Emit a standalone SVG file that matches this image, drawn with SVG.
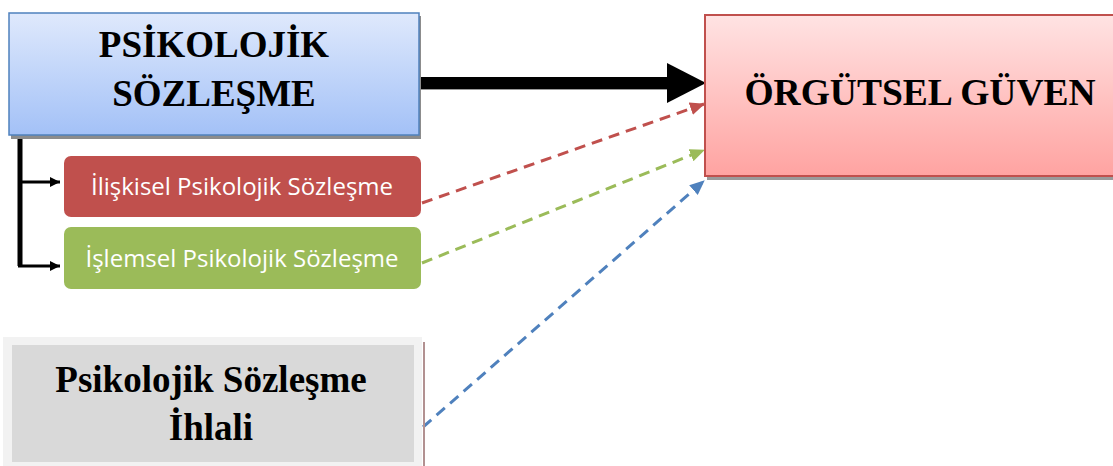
<svg xmlns="http://www.w3.org/2000/svg" width="1113" height="466" viewBox="0 0 1113 466">
<defs>
<linearGradient id="gBlue" x1="0" y1="0" x2="0" y2="1"><stop offset="0" stop-color="#dfe9fc"/><stop offset="1" stop-color="#a3c1f7"/></linearGradient>
<linearGradient id="gRed" x1="0" y1="0" x2="0" y2="1"><stop offset="0" stop-color="#ffe3e3"/><stop offset="1" stop-color="#ffa3a1"/></linearGradient>
<marker id="aBlk" markerUnits="userSpaceOnUse" markerWidth="12" markerHeight="12" refX="10" refY="5" orient="auto"><path d="M0,0 L10,5 L0,10 Z" fill="#000"/></marker>
<marker id="aRed" markerUnits="userSpaceOnUse" markerWidth="16" markerHeight="14" refX="14" refY="6.5" orient="auto"><path d="M0,0 L15,6.5 L0,13 Z" fill="#c0504d"/></marker>
<marker id="aGrn" markerUnits="userSpaceOnUse" markerWidth="16" markerHeight="14" refX="14" refY="6.5" orient="auto"><path d="M0,0 L15,6.5 L0,13 Z" fill="#9bbb59"/></marker>
<marker id="aBlu" markerUnits="userSpaceOnUse" markerWidth="16" markerHeight="14" refX="14" refY="6.5" orient="auto"><path d="M0,0 L15,6.5 L0,13 Z" fill="#4f81bd"/></marker>
</defs>
<style>
.tb{font-family:"Liberation Serif","Times New Roman",serif;font-weight:bold;fill:#000;text-anchor:middle}
.tw{font-family:"Open Sans","Noto Sans",sans-serif;fill:#fff;text-anchor:middle}
.dash{fill:none;stroke-width:3;stroke-dasharray:11 7}
</style>
<rect width="1113" height="466" fill="#fff"/>
<g id="connectors">
<path d="M20,137 V266" stroke="#000" stroke-width="5" fill="none"/>
<path d="M18,182 H60" stroke="#000" stroke-width="3" fill="none" marker-end="url(#aBlk)"/>
<path d="M18,266 H60" stroke="#000" stroke-width="3" fill="none" marker-end="url(#aBlk)"/>
<rect x="421" y="86" width="250" height="4" fill="#9a9a9a"/>
<rect x="421" y="77" width="248" height="12" fill="#000"/>
<path d="M667,63 L706,83 L667,103 Z" fill="#000"/>
<path class="dash" d="M422,203 L704,104" stroke="#c0504d" marker-end="url(#aRed)"/>
<path class="dash" d="M422,263 L704,150" stroke="#9bbb59" marker-end="url(#aGrn)"/>
<path class="dash" d="M423,427 L704,181" stroke="#4f81bd" marker-end="url(#aBlu)"/>
</g>
<g id="psikolojik-sozlesme">
<rect x="11" y="16" width="410" height="123" fill="#8c8c8c"/>
<rect x="9" y="13" width="410" height="122" fill="url(#gBlue)" stroke="#4f81bd" stroke-width="1.5"/>
<text class="tb" x="214" y="57" font-size="37">PSİKOLOJİK</text>
<text class="tb" x="214" y="106" font-size="37">SÖZLEŞME</text>
</g>
<g id="iliskisel">
<rect x="64" y="156" width="357" height="61" rx="7" fill="#c0504d"/>
<text class="tw" x="242" y="195" font-size="24">İlişkisel Psikolojik Sözleşme</text>
</g>
<g id="islemsel">
<rect x="64" y="227" width="357" height="62" rx="7" fill="#9bbb59"/>
<text class="tw" x="242" y="267" font-size="24">İşlemsel Psikolojik Sözleşme</text>
</g>
<g id="ihlal">
<rect x="3" y="337" width="419" height="135" fill="#f2f2f2"/>
<rect x="12" y="345" width="402" height="117" fill="#d9d9d9"/>
<rect x="423" y="342" width="2" height="124" fill="#b29191"/>
<text class="tb" x="211" y="392" font-size="37">Psikolojik Sözleşme</text>
<text class="tb" x="211" y="440" font-size="37">İhlali</text>
</g>
<g id="orgutsel-guven">
<rect x="707" y="18" width="410" height="162" fill="#9a9a9a"/>
<rect x="705" y="15" width="412" height="161" fill="url(#gRed)" stroke="#c0504d" stroke-width="2"/>
<text class="tb" x="920" y="105" font-size="37.5">ÖRGÜTSEL GÜVEN</text>
</g>
</svg>
